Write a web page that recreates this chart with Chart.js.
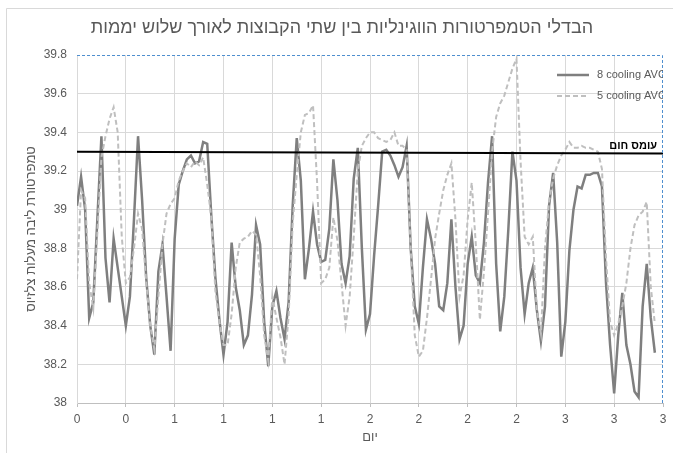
<!DOCTYPE html>
<html>
<head>
<meta charset="utf-8">
<script src="https://cdn.jsdelivr.net/npm/chart.js@4.4.0/dist/chart.umd.min.js"></script>
<style>
  html, body { margin: 0; padding: 0; background: #fff; }
</style>
</head>
<body>
<canvas id="chart" width="673" height="453"></canvas>
<script>
// half-hour samples, x in days
const sampleStep = 1 / 48;

const cooling8 = [
  39.02, 39.17, 39.00, 38.44, 38.52, 38.95, 39.38, 38.75, 38.52, 38.85,
  38.70, 38.55, 38.40, 38.55, 38.95, 39.38, 39.05, 38.65, 38.40, 38.25,
  38.68, 38.82, 38.55, 38.27, 38.85, 39.13, 39.20, 39.26, 39.28, 39.24,
  39.25, 39.35, 39.34, 38.97, 38.65, 38.43, 38.25, 38.42, 38.83, 38.60,
  38.48, 38.30, 38.35, 38.56, 38.92, 38.82, 38.42, 38.19, 38.50, 38.58,
  38.44, 38.33, 38.52, 39.02, 39.37, 39.15, 38.64, 38.80, 38.99, 38.82,
  38.73, 38.74, 38.90, 39.26, 39.05, 38.72, 38.62, 38.76, 39.16, 39.32,
  38.80, 38.38, 38.46, 38.76, 39.02, 39.30, 39.31, 39.28, 39.23, 39.17,
  39.22, 39.33, 38.80, 38.50, 38.41, 38.70, 38.95, 38.85, 38.72, 38.50,
  38.48, 38.62, 38.95, 38.60, 38.33, 38.40, 38.72, 38.86, 38.66, 38.62,
  38.83, 39.14, 39.38, 38.72, 38.37, 38.55, 38.90, 39.30, 39.15, 38.70,
  38.46, 38.62, 38.70, 38.48, 38.32, 38.50, 39.02, 39.19, 38.83, 38.24,
  38.42, 38.79, 39.00, 39.12, 39.11, 39.18, 39.18, 39.19, 39.19, 39.12,
  38.62, 38.30, 38.05, 38.35, 38.57, 38.30, 38.20, 38.06, 38.03, 38.50,
  38.72, 38.44, 38.26
];

const cooling5 = [
  38.64, 39.10, 39.06, 38.62, 38.49, 38.88, 39.27, 39.38, 39.47, 39.53,
  39.40, 38.86, 38.62, 38.65, 38.80, 38.98, 38.90, 38.63, 38.40, 38.28,
  38.55, 38.82, 38.98, 39.03, 39.06, 39.15, 39.20, 39.24, 39.22, 39.25,
  39.23, 39.27, 39.13, 38.96, 38.58, 38.42, 38.30, 38.30, 38.46, 38.70,
  38.83, 38.85, 38.86, 38.89, 38.87, 38.66, 38.35, 38.22, 38.55, 38.44,
  38.34, 38.20, 38.45, 38.93, 39.18, 39.40, 39.49, 39.50, 39.54, 39.14,
  38.62, 38.64, 38.70, 38.96, 38.84, 38.62, 38.40, 38.55, 38.86, 39.20,
  39.33, 39.37, 39.40, 39.40, 39.37, 39.36, 39.35, 39.36, 39.40, 39.33,
  39.33, 39.31, 38.80, 38.35, 38.24, 38.27, 38.44, 38.64, 38.85, 38.98,
  39.10, 39.18, 39.24, 38.95, 38.55, 38.66, 38.95, 39.14, 38.82, 38.43,
  38.68, 38.98, 39.30, 39.48, 39.55, 39.59, 39.66, 39.73, 39.78, 39.25,
  38.86, 38.82, 38.86, 38.48, 38.36, 38.80, 39.04, 39.16, 39.23, 39.28,
  39.31, 39.35, 39.32, 39.32, 39.33, 39.32, 39.32, 39.31, 39.30, 39.21,
  38.75, 38.42, 38.35, 38.41, 38.50, 38.62, 38.80, 38.92, 38.97, 38.99,
  39.04, 38.60, 38.41
];

// heat load reference line, start and end of the 3 days
const heatLoadDays = [0, 3];
const heatLoad = [39.30, 39.29];

const xTickLabels = ['0', '0', '1', '1', '1', '1', '2', '2', '2', '2', '3', '3', '3'];

const chartTitle = 'הבדלי הטמפרטורות הווגינליות בין שתי הקבוצות לאורך שלוש יממות';
const yTitle = 'טמפרטורת ליבה מעלות צלזיוס';
const xTitle = 'יום';
const heatLabel = 'עומס חום';
const seriesNames = ['8 cooling AVG', '5 cooling AVG'];

const FONT = '"Liberation Sans", "DejaVu Sans", Arial, sans-serif';
const GREY_TEXT = '#595959';
const GRID = '#d9d9d9';
const SOLID = '#7f7f7f';
const DASHED = '#bfbfbf';

Chart.defaults.font.family = FONT;
Chart.defaults.color = GREY_TEXT;

const toPoints = arr => arr.map((v, i) => ({ x: i * sampleStep, y: v }));

const framePlugin = {
  id: 'frame',
  beforeDraw(chart) {
    const ctx = chart.ctx;
    ctx.save();
    ctx.fillStyle = '#fff';
    ctx.fillRect(0, 0, chart.width, chart.height);
    ctx.strokeStyle = '#d9d9d9';
    ctx.lineWidth = 1;
    ctx.beginPath();
    ctx.moveTo(6.5, chart.height);
    ctx.lineTo(6.5, 8.5);
    ctx.lineTo(chart.width, 8.5);
    ctx.stroke();
    ctx.restore();
  },
  afterDraw(chart) {
    const ctx = chart.ctx;
    const a = chart.chartArea;
    ctx.save();

    // selected plot-area border (top and right)
    ctx.strokeStyle = '#4f8fcf';
    ctx.lineWidth = 1;
    ctx.setLineDash([3, 2]);
    ctx.beginPath();
    ctx.moveTo(a.left, a.top + 0.5);
    ctx.lineTo(a.right - 0.5, a.top + 0.5);
    ctx.lineTo(a.right - 0.5, a.bottom);
    ctx.stroke();
    ctx.setLineDash([]);

    // title
    ctx.fillStyle = GREY_TEXT;
    ctx.font = '18px ' + FONT;
    ctx.textAlign = 'center';
    ctx.textBaseline = 'middle';
    ctx.fillText(chartTitle, 342, 28);

    // heat load label
    ctx.fillStyle = '#000';
    ctx.font = 'bold 11px ' + FONT;
    ctx.textAlign = 'right';
    ctx.fillText(heatLabel, a.right - 6, 146);

    // legend, clipped by the plot area like the original
    ctx.beginPath();
    ctx.rect(a.left, a.top, a.right - a.left, a.bottom - a.top);
    ctx.clip();
    const rows = [
      { y: 75, color: SOLID, dash: [], width: 2.5 },
      { y: 96, color: DASHED, dash: [5, 3], width: 2 }
    ];
    rows.forEach((r, i) => {
      ctx.strokeStyle = r.color;
      ctx.lineWidth = r.width;
      ctx.setLineDash(r.dash);
      ctx.beginPath();
      ctx.moveTo(557, r.y);
      ctx.lineTo(589, r.y);
      ctx.stroke();
      ctx.setLineDash([]);
      ctx.fillStyle = GREY_TEXT;
      ctx.font = '11px ' + FONT;
      ctx.textAlign = 'left';
      ctx.textBaseline = 'middle';
      ctx.fillText(seriesNames[i], 597, r.y);
    });
    ctx.restore();
  }
};

const hideLast = n => c => (c.index === n ? 'rgba(0,0,0,0)' : GRID);

new Chart(document.getElementById('chart'), {
  type: 'line',
  data: {
    datasets: [
      {
        label: 'heat load',
        data: heatLoadDays.map((d, i) => ({ x: d, y: heatLoad[i] })),
        borderColor: '#000',
        borderWidth: 2,
        pointRadius: 0
      },
      {
        label: seriesNames[1],
        data: toPoints(cooling5),
        borderColor: DASHED,
        borderWidth: 2,
        borderDash: [5, 3],
        pointRadius: 0,
        tension: 0
      },
      {
        label: seriesNames[0],
        data: toPoints(cooling8),
        borderColor: SOLID,
        borderWidth: 2.5,
        pointRadius: 0,
        tension: 0
      }
    ]
  },
  options: {
    responsive: false,
    animation: false,
    devicePixelRatio: 1,
    layout: { padding: { left: 0, top: 55, right: 10, bottom: 0 } },
    plugins: {
      legend: { display: false },
      tooltip: { enabled: false },
      title: { display: false }
    },
    scales: {
      x: {
        type: 'linear',
        min: 0,
        max: 3,
        afterFit: s => { s.height = 50; },
        grid: { color: hideLast(12), tickColor: '#bfbfbf', tickLength: 4, drawTicks: true },
        border: { color: '#bfbfbf' },
        ticks: {
          stepSize: 0.25,
          autoSkip: false,
          maxRotation: 0,
          padding: 5,
          font: { size: 12 },
          color: GREY_TEXT,
          callback: (v, i) => xTickLabels[i]
        },
        title: {
          display: true,
          text: xTitle,
          color: GREY_TEXT,
          font: { size: 13 },
          padding: { top: 0, bottom: 8 }
        }
      },
      y: {
        min: 38,
        max: 39.8,
        afterFit: s => { s.width = 77; },
        grid: { color: hideLast(9), drawTicks: false },
        border: { color: GRID },
        ticks: {
          stepSize: 0.2,
          padding: 10,
          font: { size: 12 },
          color: GREY_TEXT,
          callback: v => String(Number(v.toFixed(1)))
        },
        title: {
          display: true,
          text: yTitle,
          color: GREY_TEXT,
          font: { size: 13 },
          padding: { top: 24, bottom: 0 }
        }
      }
    }
  },
  plugins: [framePlugin]
});
</script>
</body>
</html>
